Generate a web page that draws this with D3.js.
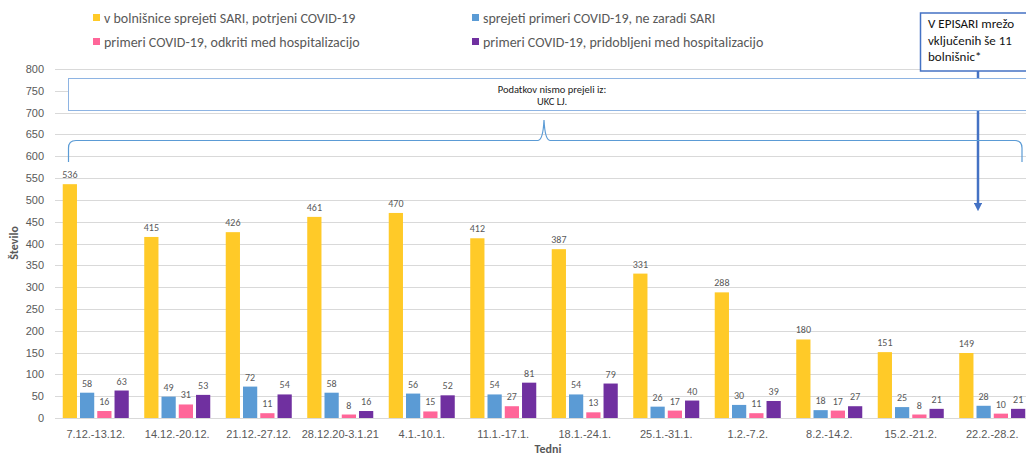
<!DOCTYPE html>
<html><head><meta charset="utf-8">
<script src="https://cdn.jsdelivr.net/npm/d3@7"></script>
<style>
body{margin:0;background:#fff;}
svg{display:block;font-family:Carlito,"Liberation Sans",Arial,sans-serif;}
</style></head>
<body>
<svg id="c" width="1026" height="455"></svg>
<script>
const categories = ["7.12.-13.12.","14.12.-20.12.","21.12.-27.12.","28.12.20-3.1.21","4.1.-10.1.","11.1.-17.1.","18.1.-24.1.","25.1.-31.1.","1.2.-7.2.","8.2.-14.2.","15.2.-21.2.","22.2.-28.2."];
const seriesNames = ["v bolnišnice sprejeti SARI, potrjeni COVID-19","sprejeti primeri COVID-19, ne zaradi SARI","primeri COVID-19, odkriti med hospitalizacijo","primeri COVID-19, pridobljeni med hospitalizacijo"];
const sariCovid = [536,415,426,461,470,412,387,331,288,180,151,149];
const notSari = [58,49,72,58,56,54,54,26,30,18,25,28];
const detected = [16,31,11,8,15,27,13,17,11,17,8,10];
const acquired = [63,53,54,16,52,81,79,40,39,27,21,21];
const yTicks = [0,50,100,150,200,250,300,350,400,450,500,550,600,650,700,750,800];
const colors = ["#FFCA28","#5B9BD5","#FF6699","#7030A0"];
const series = [sariCovid, notSari, detected, acquired];

const svg = d3.select("#c");
const W = 1026;
const y = d3.scaleLinear().domain([0,800]).range([418,69]);
const x = d3.scaleBand().domain(categories).range([55,1033]).paddingInner(0.19).paddingOuter(0.095);
const xs = d3.scaleBand().domain(d3.range(4)).range([0,x.bandwidth()]).paddingInner(0.176).paddingOuter(0);
const grey = "#595959";

// gridlines
svg.append("g").selectAll("line").data(yTicks).join("line")
  .attr("x1",55).attr("x2",W).attr("y1",d=>Math.round(y(d))+0.5).attr("y2",d=>Math.round(y(d))+0.5)
  .attr("stroke","#D9D9D9").attr("stroke-width",1);

// y axis labels
const yAxis = d3.axisLeft(y).tickValues(yTicks).tickSize(0).tickPadding(0);
const ya = svg.append("g").attr("transform","translate(44,0)").call(yAxis);
ya.select(".domain").remove();
ya.selectAll("text").attr("fill",grey).attr("font-size",11).attr("font-family",null);

// x axis labels
const xAxis = d3.axisBottom(x).tickSize(0).tickPadding(0);
const xa = svg.append("g").attr("transform","translate(0,430)").call(xAxis);
xa.select(".domain").remove();
xa.selectAll("text").attr("fill",grey).attr("font-size",11).attr("font-family",null);

// bars
const groups = svg.append("g").selectAll("g").data(categories).join("g")
  .attr("transform",d=>`translate(${x(d)},0)`);
groups.each(function(c,i){
  const g = d3.select(this);
  series.forEach((s,k)=>{
    g.append("rect").attr("x",xs(k)).attr("width",xs.bandwidth())
      .attr("y",y(s[i])).attr("height",y(0)-y(s[i])).attr("fill",colors[k]);
    g.append("text").attr("x",xs(k)+xs.bandwidth()/2).attr("y",y(s[i])-6)
      .attr("text-anchor","middle").attr("font-size",10).attr("fill",grey).text(s[i]);
  });
});

// axis titles
svg.append("text").attr("transform","translate(18,243) rotate(-90)").attr("text-anchor","middle")
  .attr("font-size",12).attr("font-weight","bold").attr("fill",grey).text("Število");
svg.append("text").attr("x",548).attr("y",453).attr("text-anchor","middle")
  .attr("font-size",12).attr("font-weight","bold").attr("fill",grey).text("Tedni");

// legend
const legPos = [[93,14],[472,14],[93,38],[472,38]];
seriesNames.forEach((n,k)=>{
  const [lx,ly] = legPos[k];
  svg.append("rect").attr("x",lx).attr("y",ly).attr("width",7).attr("height",7).attr("fill",colors[k]);
  svg.append("text").attr("x",lx+11).attr("y",ly+8.5).attr("font-size",14).attr("fill",grey).text(n);
});

// arrow
svg.append("defs").append("marker").attr("id","ah").attr("viewBox","0 0 10 10").attr("refX",5).attr("refY",5)
  .attr("markerWidth",3.4).attr("markerHeight",3.4).attr("orient","auto")
  .append("path").attr("d","M0,0L10,5L0,10z").attr("fill","#4472C4");
svg.append("line").attr("x1",978).attr("x2",978).attr("y1",71).attr("y2",207)
  .attr("stroke","#4472C4").attr("stroke-width",2.5).attr("marker-end","url(#ah)");

// Podatkov rect
svg.append("rect").attr("x",68.5).attr("y",78.5).attr("width",970).attr("height",32)
  .attr("fill","#fff").attr("stroke","#8EB4E3").attr("stroke-width",1);
svg.append("text").attr("x",552).attr("y",93).attr("text-anchor","middle").attr("font-size",10.5).attr("fill","#222").text("Podatkov nismo prejeli iz:");
svg.append("text").attr("x",552).attr("y",105).attr("text-anchor","middle").attr("font-size",10.5).attr("fill","#222").text("UKC LJ.");

// brace
svg.append("path").attr("d","M68.5,162 L68.5,148 Q68.5,140.5 76,140.5 L538,140.5 Q543,140 544,120 Q545,140 550,140.5 L1015,140.5 Q1022,140.5 1022,148 L1022,162")
  .attr("fill","none").attr("stroke","#5B9BD5").attr("stroke-width",1.2);

// callout
svg.append("rect").attr("x",920.5).attr("y",13).attr("width",120).attr("height",58)
  .attr("fill","#fff").attr("stroke","#4472C4").attr("stroke-width",1.5);
["V EPISARI mrežo","vključenih še 11","bolnišnic*"].forEach((t,i)=>{
  svg.append("text").attr("x",928).attr("y",28+i*16.5).attr("font-size",13).attr("fill","#111").text(t);
});
</script>
</body></html>
